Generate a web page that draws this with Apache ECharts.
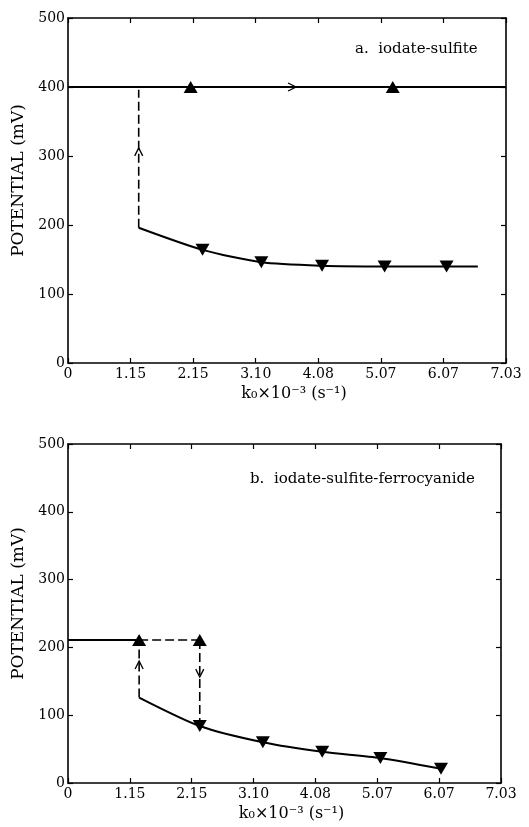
<!DOCTYPE html>
<html>
<head>
<meta charset="utf-8">
<script src="https://cdn.jsdelivr.net/npm/echarts@6/dist/echarts.min.js"></script>
<style>
  html, body { margin: 0; padding: 0; background: #fff; }
  #chart { width: 529px; height: 827px; }
</style>
</head>
<body>
<div id="chart"></div>
<script>
// x axis ticks are evenly spaced, the label is the k0 value at that tick
const xTickLabels = ['0', '1.15', '2.15', '3.10', '4.08', '5.07', '6.07', '7.03'];

// a. iodate-sulfite  (x in tick positions, y in mV)
const aUpperLine = [[0, 400], [7, 400]];
const aUpperMarks = [[1.96, 400], [5.19, 400]];
const aRightArrow = [[3.58, 400]];
const aJumpUp = [[1.13, 196], [1.13, 396]];
const aUpArrow = [[1.13, 306]];
const aLowerLine = [[1.13, 196], [2.15, 164], [3.09, 146], [4.06, 141], [5.06, 140], [6.05, 140], [6.55, 140]];
const aLowerMarks = [[2.15, 164], [3.09, 146], [4.06, 141], [5.06, 140], [6.05, 140]];

// b. iodate-sulfite-ferrocyanide
const bUpperLine = [[0, 211], [1.15, 211]];
const bUpperDash = [[1.15, 211], [2.13, 211]];
const bUpperMarks = [[1.15, 211], [2.13, 211]];
const bJumpUp = [[1.15, 126], [1.15, 211]];
const bUpArrow = [[1.15, 174]];
const bJumpDown = [[2.13, 211], [2.13, 84]];
const bDownArrow = [[2.13, 162]];
const bLowerLine = [[1.15, 126], [2.13, 84], [3.15, 60], [4.11, 46], [5.05, 37], [6.03, 21]];
const bLowerMarks = [[2.13, 84], [3.15, 60], [4.11, 46], [5.05, 37], [6.03, 21]];

const FONT = '"DejaVu Serif", serif';
const ARROW_UP = 'path://M0,8 L4,0 L8,8';
const ARROW_DOWN = 'path://M0,0 L4,8 L8,0';
const ARROW_RIGHT = 'path://M0,0 L8,4 L0,8';

function mainX(grid) {
  return {
    type: 'value', gridIndex: grid, min: 0, max: 7, interval: 1,
    name: 'k\u2080\u00d710\u207b\u00b3 (s\u207b\u00b9)',
    nameLocation: 'middle', nameGap: 23,
    nameTextStyle: { color: '#000', fontFamily: FONT, fontSize: 16, padding: [0, 0, 0, 14] },
    axisLine: { onZero: false, lineStyle: { color: '#000', width: 1.6 } },
    axisTick: { inside: true, length: 5, lineStyle: { color: '#000', width: 1.2 } },
    axisLabel: { color: '#000', fontFamily: FONT, fontSize: 14, margin: 4,
      formatter: v => xTickLabels[Math.round(v)] },
    splitLine: { show: false }
  };
}
function topX(grid) {
  return {
    type: 'value', gridIndex: grid, position: 'top', min: 0, max: 7, interval: 1,
    axisLine: { onZero: false, lineStyle: { color: '#000', width: 1.6 } },
    axisTick: { inside: true, length: 5, lineStyle: { color: '#000', width: 1.2 } },
    axisLabel: { show: false }, splitLine: { show: false }
  };
}
function mainY(grid) {
  return {
    type: 'value', gridIndex: grid, min: 0, max: 500, interval: 100,
    name: 'POTENTIAL (mV)', nameLocation: 'middle', nameGap: 40, nameRotate: 90,
    nameTextStyle: { color: '#000', fontFamily: FONT, fontSize: 17, padding: [0, 0, 0, 20] },
    axisLine: { show: true, onZero: false, lineStyle: { color: '#000', width: 1.6 } },
    axisTick: { show: true, inside: true, length: 5, lineStyle: { color: '#000', width: 1.2 } },
    axisLabel: { color: '#000', fontFamily: FONT, fontSize: 14, margin: 3 },
    splitLine: { show: false }
  };
}
function rightY(grid) {
  return {
    type: 'value', gridIndex: grid, position: 'right', min: 0, max: 500, interval: 100,
    axisLine: { show: true, onZero: false, lineStyle: { color: '#000', width: 1.6 } },
    axisTick: { show: true, inside: true, length: 5, lineStyle: { color: '#000', width: 1.2 } },
    axisLabel: { show: false }, splitLine: { show: false }
  };
}

function line(data, xi, yi, dashed, smooth) {
  return {
    type: 'line', xAxisIndex: xi, yAxisIndex: yi, data: data,
    symbol: 'none', smooth: smooth || false, silent: true,
    lineStyle: { color: '#000', width: dashed ? 1.6 : 2, type: dashed ? [9, 4] : 'solid' }
  };
}
function marks(data, xi, yi, up) {
  return {
    type: 'scatter', xAxisIndex: xi, yAxisIndex: yi, data: data,
    symbol: 'triangle', symbolSize: [14, 12], symbolRotate: up ? 0 : 180,
    itemStyle: { color: '#000', opacity: 1 }, silent: true
  };
}
function arrow(data, xi, yi, path) {
  return {
    type: 'scatter', xAxisIndex: xi, yAxisIndex: yi, data: data,
    symbol: path, symbolSize: 8, symbolKeepAspect: true,
    itemStyle: { color: 'rgba(0,0,0,0)', borderColor: '#000', borderWidth: 1.3, opacity: 1 }, silent: true
  };
}

const chart = echarts.init(document.getElementById('chart'));
chart.setOption({
  animation: false,
  backgroundColor: '#fff',
  title: [
    { text: 'a.  iodate-sulfite', left: 350, top: 37,
      textStyle: { color: '#000', fontFamily: FONT, fontSize: 15, fontWeight: 'normal' } },
    { text: 'b.  iodate-sulfite-ferrocyanide', left: 245, top: 467,
      textStyle: { color: '#000', fontFamily: FONT, fontSize: 15, fontWeight: 'normal' } }
  ],
  grid: [
    { left: 68, right: 23, top: 18, height: 345 },
    { left: 68, right: 28, top: 444, height: 339 }
  ],
  xAxis: [mainX(0), mainX(1), topX(0), topX(1)],
  yAxis: [mainY(0), mainY(1), rightY(0), rightY(1)],
  series: [
    line(aUpperLine, 0, 0),
    line(aJumpUp, 0, 0, true),
    line(aLowerLine, 0, 0, false, 0.25),
    marks(aUpperMarks, 0, 0, true),
    marks(aLowerMarks, 0, 0, false),
    arrow(aRightArrow, 0, 0, ARROW_RIGHT),
    arrow(aUpArrow, 0, 0, ARROW_UP),

    line(bUpperLine, 1, 1),
    line(bUpperDash, 1, 1, true),
    line(bJumpUp, 1, 1, true),
    line(bJumpDown, 1, 1, true),
    line(bLowerLine, 1, 1, false, 0.25),
    marks(bUpperMarks, 1, 1, true),
    marks(bLowerMarks, 1, 1, false),
    arrow(bUpArrow, 1, 1, ARROW_UP),
    arrow(bDownArrow, 1, 1, ARROW_DOWN)
  ]
});
</script>
</body>
</html>
